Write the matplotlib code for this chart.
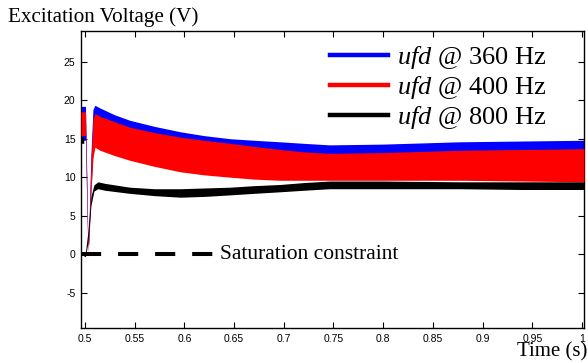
import numpy as np
import matplotlib
matplotlib.use("Agg")
import matplotlib.pyplot as plt

plt.rcParams['mathtext.fontset'] = 'custom'
plt.rcParams['mathtext.rm'] = 'Liberation Serif'
plt.rcParams['mathtext.it'] = 'Liberation Serif:italic'
plt.rcParams['axes.unicode_minus'] = False

# envelope of the fast oscillating field voltage
t_env = [0.496, 0.5005, 0.502, 0.503, 0.504, 0.506, 0.508, 0.510, 0.515, 0.530,
         0.545, 0.570, 0.596, 0.620, 0.646, 0.670, 0.696, 0.720, 0.746, 0.800,
         0.877, 0.940, 1.002]

# ufd @ 360 Hz
blue_hi = [19.2, 19.2, 9.0, 1.5, 4.0, 13.0, 18.8, 19.35, 19.0, 18.1,
           17.4, 16.6, 15.9, 15.4, 15.0, 14.8, 14.6, 14.4, 14.2, 14.3,
           14.6, 14.7, 14.8]
blue_lo = [14.8, 14.8, 5.5, 1.0, 2.0, 8.5, 13.0, 14.2, 13.8, 13.1,
           12.5, 11.7, 11.0, 10.6, 10.3, 10.0, 9.9, 9.9, 9.9, 9.9,
           9.9, 9.8, 9.7]

# ufd @ 400 Hz
red_hi = [18.5, 18.5, 8.0, 0.5, 3.0, 12.0, 17.5, 18.3, 17.9, 17.2,
          16.5, 15.8, 15.2, 14.8, 14.4, 14.0, 13.6, 13.3, 13.1, 13.2,
          13.5, 13.6, 13.7]
red_lo = [15.4, 15.4, 5.0, 0.3, 1.5, 8.0, 12.5, 13.9, 13.5, 12.8,
          12.2, 11.4, 10.7, 10.3, 10.0, 9.75, 9.6, 9.6, 9.6, 9.6,
          9.6, 9.5, 9.4]

# ufd @ 800 Hz
t_blk = [0.496, 0.4988, 0.4990, 0.5005, 0.503, 0.506, 0.509, 0.513, 0.520, 0.545,
         0.570, 0.596, 0.620, 0.646, 0.670, 0.696, 0.720, 0.746, 0.800, 0.877,
         0.940, 1.002]
blk_hi = [15.2, 15.2, 0.3, 0.3, 3.0, 7.5, 9.0, 9.4, 9.2, 8.7,
          8.5, 8.5, 8.6, 8.7, 8.9, 9.05, 9.3, 9.5, 9.5, 9.4,
          9.4, 9.4]
blk_lo = [14.4, 14.4, -0.3, -0.3, 1.5, 6.3, 8.2, 8.5, 8.3, 7.9,
          7.6, 7.4, 7.5, 7.7, 7.9, 8.1, 8.3, 8.5, 8.5, 8.5,
          8.4, 8.4]

sat_t = [0.496, 0.629]
sat_v = [0, 0]

labels = [r'$\mathit{ufd}$ @ 360 Hz', r'$\mathit{ufd}$ @ 400 Hz', r'$\mathit{ufd}$ @ 800 Hz']
xticks = [0.5, 0.55, 0.6, 0.65, 0.7, 0.75, 0.8, 0.85, 0.9, 0.95, 1.0]
xticklabels = ['0.5', '0.55', '0.6', '0.65', '0.7', '0.75', '0.8', '0.85', '0.9', '0.95', '1']
yticks = [-5, 0, 5, 10, 15, 20, 25]

fig = plt.figure(figsize=(5.88, 3.63), dpi=100)
ax = fig.add_axes([81/588, 1-328/363, (584-81)/588, (328-31)/363])

ax.fill_between(t_env, blue_lo, blue_hi, color='#0000ff', lw=0, zorder=2)
ax.fill_between(t_env, red_lo, red_hi, color='#ff0000', lw=0, zorder=3)
ax.fill_between(t_blk, blk_lo, blk_hi, color='black', lw=0, zorder=4)

ax.plot(sat_t, sat_v, color='black', lw=2.9, dashes=(5, 4.2), zorder=5)
ax.text(0.6355, 0, 'Saturation constraint', family='Liberation Serif',
        fontsize=15.5, va='center', ha='left')

h1, = ax.plot([], [], color='#0000ff', lw=3.2)
h2, = ax.plot([], [], color='#ff0000', lw=3.2)
h3, = ax.plot([], [], color='black', lw=3.2)
ax.legend([h1, h2, h3], labels, loc='upper left',
          bbox_to_anchor=(330/588, 1-44/363), bbox_transform=fig.transFigure,
          frameon=False, borderpad=0, borderaxespad=0,
          prop={'family': 'Liberation Serif', 'size': 19},
          handlelength=2.2, handletextpad=0.35, labelspacing=0.12)

ax.set_xlim(0.496, 1.002)
ax.set_ylim(-9.6, 29)
ax.set_xticks(xticks)
ax.set_xticklabels(xticklabels)
ax.set_yticks(yticks)
ax.tick_params(direction='in', top=True, right=True, length=4, width=0.8,
               labelsize=7.5, pad=4)
for lab in ax.get_xticklabels() + ax.get_yticklabels():
    lab.set_family('Liberation Sans')
for sp in ax.spines.values():
    sp.set_linewidth(1.0)

fig.text(8/588, 1-17/363, 'Excitation Voltage (V)', family='Liberation Serif',
         fontsize=15.2, va='center', ha='left')
fig.text(587/588, 1-352/363, 'Time (s)', family='Liberation Serif',
         fontsize=15, va='center', ha='right')

fig.savefig('out.png', dpi=100)
